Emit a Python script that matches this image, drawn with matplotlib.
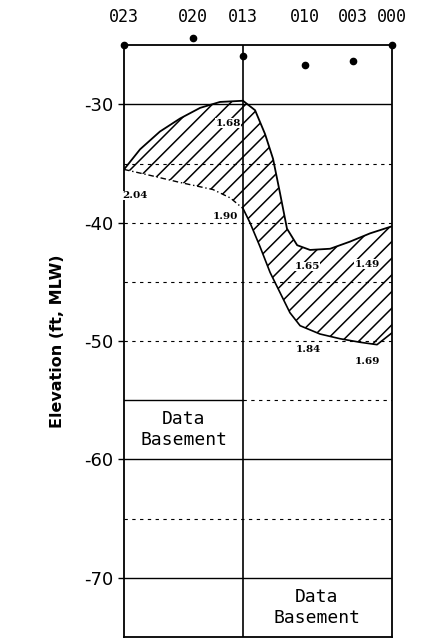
import numpy as np
import matplotlib.pyplot as plt

# station positions along the profile (relative distance) and their labels
stations = ["023", "020", "013", "010", "003", "000"]
station_x = [0.0, 0.257, 0.444, 0.675, 0.854, 1.0]

# survey dots near the top of the section
dot_x = [0.0, 0.257, 0.444, 0.675, 0.854, 1.0]
dot_y = [-25.0, -24.4, -25.9, -26.7, -26.3, -25.0]

# upper boundary of the hatched layer
upper_x = [0.0, 0.06, 0.134, 0.209, 0.284, 0.358, 0.444, 0.489, 0.526, 0.556,
           0.582, 0.608, 0.646, 0.694, 0.769, 0.843, 0.918, 1.0]
upper_y = [-35.5, -33.8, -32.3, -31.2, -30.3, -29.8, -29.7, -30.5, -32.5, -34.6,
           -37.5, -40.5, -41.9, -42.3, -42.2, -41.6, -40.9, -40.3]

# lower boundary of the hatched layer
lower_x = [0.0, 0.097, 0.209, 0.332, 0.396, 0.444, 0.47, 0.507, 0.545, 0.582,
           0.619, 0.657, 0.731, 0.806, 0.881, 0.944, 1.0]
lower_y = [-35.5, -36.0, -36.6, -37.2, -37.9, -38.8, -40.0, -42.0, -44.2, -45.9,
           -47.6, -48.7, -49.4, -49.8, -50.1, -50.3, -49.3]

# value annotations
note_text = ["1.68", "2.04", "1.90", "1.65", "1.49", "1.84", "1.69"]
note_x = [0.388, 0.04, 0.377, 0.683, 0.907, 0.687, 0.907]
note_y = [-31.6, -37.7, -39.5, -43.7, -43.5, -50.7, -51.7]

fig = plt.figure(figsize=(4.33, 6.39), dpi=100)
ax = fig.add_axes([0.2864, 0.003, 0.619, 0.9264])
ax.set_xlim(0, 1)
ax.set_ylim(-75, -25)

# grid lines
for y in [-30, -60, -70]:
    ax.axhline(y, color="black", lw=1.0)
for y in [-35, -40, -45, -50, -65]:
    ax.axhline(y, color="black", lw=0.8, ls=(0, (3, 4)))
ax.plot([0, 0.444], [-55, -55], color="black", lw=1.0)
ax.plot([0.444, 1], [-55, -55], color="black", lw=0.8, ls=(0, (3, 4)))
ax.axvline(0.444, color="black", lw=1.2)

# hatched layer between the two boundaries
all_x = sorted(set(upper_x) | set(lower_x))
up_all = np.interp(all_x, upper_x, upper_y)
lo_all = np.interp(all_x, lower_x, lower_y)
plt.rcParams["hatch.linewidth"] = 1.1
ax.fill_between(all_x, lo_all, up_all, facecolor="white", edgecolor="black",
                hatch="//", lw=0)
ax.plot(upper_x, upper_y, color="black", lw=1.3)
ax.plot(lower_x[:6], lower_y[:6], color="black", lw=1.0, ls=(0, (4, 2, 1, 2)))
ax.plot(lower_x[5:], lower_y[5:], color="black", lw=1.2)

for t, x, y in zip(note_text, note_x, note_y):
    ax.text(x, y, t, fontsize=7.5, fontweight="bold", ha="center", va="center",
            family="DejaVu Serif", bbox=dict(fc="white", ec="none", pad=0.3))

ax.plot(dot_x, dot_y, "o", color="black", ms=4.5, clip_on=False, zorder=5)

ax.text(0.222, -57.5, "Data\nBasement", ha="center", va="center",
        fontsize=13, family="DejaVu Sans Mono", linespacing=1.2)
ax.text(0.72, -72.5, "Data\nBasement", ha="center", va="center",
        fontsize=13, family="DejaVu Sans Mono", linespacing=1.2)

ax.set_yticks([-30, -40, -50, -60, -70])
ax.set_yticklabels(["-30", "-40", "-50", "-60", "-70"], fontsize=13)
ax.tick_params(axis="y", length=4, width=1)
ax.xaxis.tick_top()
ax.set_xticks(station_x)
ax.set_xticklabels(stations, fontsize=12, family="DejaVu Sans Mono")
ax.tick_params(axis="x", length=0, pad=14)
ax.set_ylabel("Elevation (ft, MLW)", fontsize=11.5, fontweight="bold",
              family="DejaVu Sans", labelpad=14)
for s in ax.spines.values():
    s.set_linewidth(1.3)

fig.savefig("out.png", dpi=100)
